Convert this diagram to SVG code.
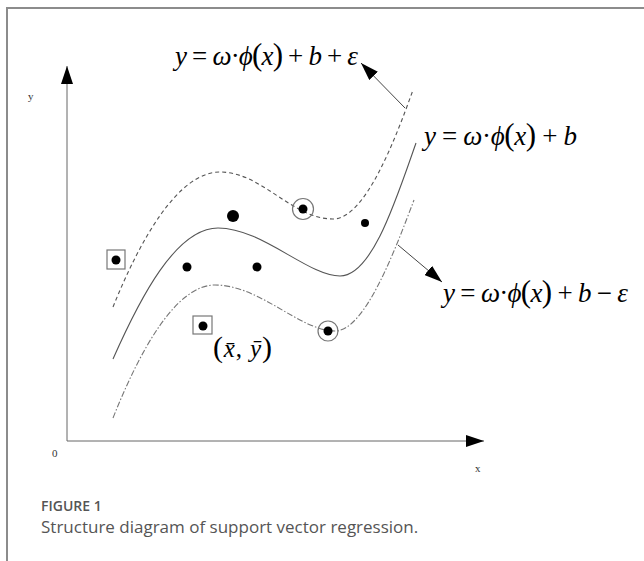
<svg xmlns="http://www.w3.org/2000/svg" width="644" height="561" viewBox="0 0 644 561">
<style>
.frame{fill:none;stroke:#8c8c8c;stroke-width:2}
.axis{fill:none;stroke:#666;stroke-width:1}
.curve{fill:none;stroke:#555;stroke-width:1.1}
.dash{stroke-dasharray:4 3}
.dashdot{stroke-dasharray:6 2 1.5 2;stroke:#777}
.lead{fill:none;stroke:#444;stroke-width:1}
.dot{fill:#000}
.box{fill:none;stroke:#777;stroke-width:1.2}
.ring{fill:none;stroke:#777;stroke-width:1.2}
.math{font-family:"Liberation Serif","DejaVu Serif",serif;font-size:27px;fill:#000}
.i{font-style:italic}
.p{font-size:31px}
.lbl{font-family:"Liberation Serif",serif;font-size:11px;fill:#333}
.cap1{font-family:"Open Sans","Noto Sans",sans-serif;font-size:14px;font-weight:600;fill:#555}
.cap2{font-family:"Open Sans","Noto Sans",sans-serif;font-size:17px;fill:#555}
</style>
<defs>
<marker id="ah" viewBox="0 0 18 12" refX="18" refY="6" markerWidth="18" markerHeight="12" markerUnits="userSpaceOnUse" orient="auto">
<path d="M0,0 L18,6 L0,12 z" fill="#000"/>
</marker>
</defs>
<rect width="644" height="561" fill="#fff"/>
<path class="frame" d="M7,561 L7,8 L644,8"/>

<g id="axes">
<line class="axis" x1="67" y1="441" x2="67" y2="66" marker-end="url(#ah)"/>
<line class="axis" x1="67" y1="441" x2="484" y2="441" marker-end="url(#ah)"/>
<text class="lbl" x="28" y="100">y</text>
<text class="lbl" x="52" y="457">0</text>
<text class="lbl" x="475" y="472">x</text>
</g>

<g id="curves">
<path id="upper-bound" class="curve dash" d="M113,307 C140,240 178,172 220,172 C262,172 292,219 333,219 C365,219 395,140 413,90"/>
<path id="regression" class="curve" d="M113,359 C140,298 176,228 218,228 C262,228 308,276 340,276 C372,276 396,200 416,143"/>
<path id="lower-bound" class="curve dashdot" d="M113,418 C140,350 176,285 215,285 C260,285 300,331 335,331 C365,331 395,250 414,200"/>
</g>

<g id="connectors">
<line class="lead" x1="405" y1="108" x2="361" y2="63" marker-end="url(#ah)"/>
<line class="lead" x1="398" y1="245" x2="442" y2="282" marker-end="url(#ah)"/>
</g>

<g id="points">
<g id="sv-box-1"><rect class="box" x="107" y="250" width="18" height="19"/><circle class="dot" cx="116" cy="260" r="4.5"/></g>
<g id="sv-box-2"><rect class="box" x="193" y="316" width="19" height="18"/><circle class="dot" cx="203" cy="326" r="4.5"/></g>
<g id="sv-ring-1"><circle class="ring" cx="303" cy="209" r="10.5"/><circle class="dot" cx="303" cy="209" r="4.5"/></g>
<g id="sv-ring-2"><circle class="ring" cx="328" cy="331" r="10"/><circle class="dot" cx="328" cy="331" r="4.5"/></g>
<circle class="dot" cx="233" cy="216" r="6"/>
<circle class="dot" cx="187" cy="267" r="4.5"/>
<circle class="dot" cx="257" cy="267" r="4.5"/>
<circle class="dot" cx="365" cy="223" r="4"/>
</g>

<g id="formula-upper">
<text class="math" x="175" y="65" textLength="183" lengthAdjust="spacing"><tspan class="i">y</tspan> = <tspan class="i">ω</tspan>·<tspan class="i">ϕ</tspan><tspan class="p">(</tspan><tspan class="i">x</tspan><tspan class="p">)</tspan> + <tspan class="i">b</tspan> + <tspan class="i">ε</tspan></text>
</g>
<g id="formula-mid">
<text class="math" x="424" y="145" textLength="153" lengthAdjust="spacing"><tspan class="i">y</tspan> = <tspan class="i">ω</tspan>·<tspan class="i">ϕ</tspan><tspan class="p">(</tspan><tspan class="i">x</tspan><tspan class="p">)</tspan> + <tspan class="i">b</tspan></text>
</g>
<g id="formula-lower">
<text class="math" x="443" y="302" textLength="185" lengthAdjust="spacing"><tspan class="i">y</tspan> = <tspan class="i">ω</tspan>·<tspan class="i">ϕ</tspan><tspan class="p">(</tspan><tspan class="i">x</tspan><tspan class="p">)</tspan> + <tspan class="i">b</tspan> − <tspan class="i">ε</tspan></text>
</g>
<g id="mean-label">
<text class="math" x="213" y="357" textLength="59" lengthAdjust="spacing" style="font-size:25px"><tspan class="p" style="font-size:30px">(</tspan><tspan class="i">x̄</tspan>, <tspan class="i">ȳ</tspan><tspan class="p" style="font-size:30px">)</tspan></text>
</g>

<g id="caption">
<text class="cap1" x="41" y="511">FIGURE 1</text>
<text class="cap2" x="41" y="533">Structure diagram of support vector regression.</text>
</g>
</svg>
